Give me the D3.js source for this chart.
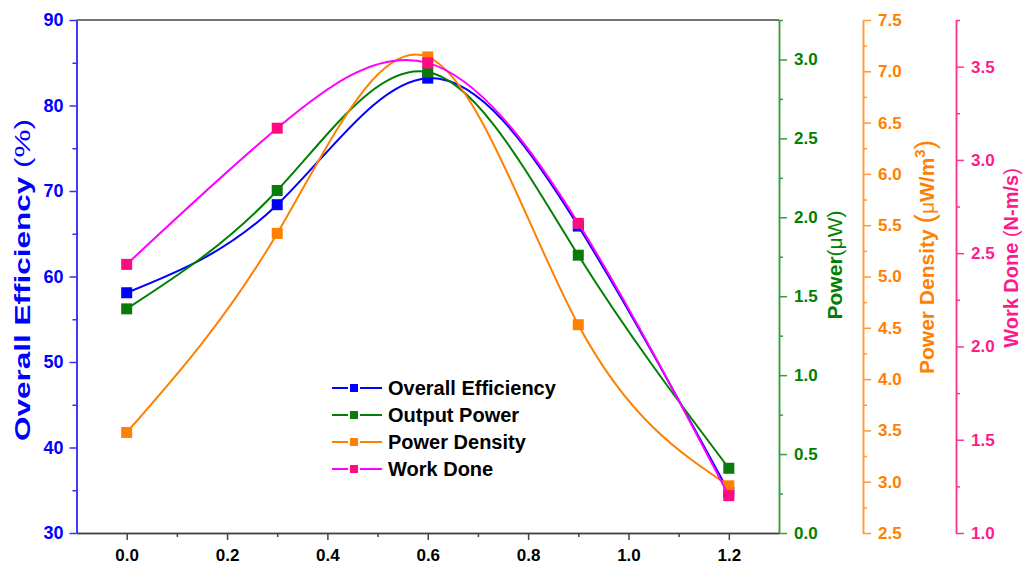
<!DOCTYPE html>
<html><head><meta charset="utf-8">
<script src="https://cdn.jsdelivr.net/npm/d3@7"></script>
<style>body{margin:0;background:#fff}svg{display:block}text{font-family:"Liberation Sans",Arial,sans-serif}</style>
</head><body>
<svg id="c" width="1025" height="566"></svg>
<script>
// ---- data ----
const xValues = [0.0, 0.3, 0.6, 0.9, 1.2];
const efficiency = [58.1, 68.4, 83.2, 65.9, 34.8];      // Overall Efficiency (%)
const outputPower = [1.42, 2.17, 2.92, 1.76, 0.41];     // Power (µW)
const powerDensity = [3.48, 5.42, 7.14, 4.53, 2.96];    // Power Density (µW/m^3)
const workDone = [2.44, 3.17, 3.52, 2.66, 1.20];        // Work Done (N-m/s)
const seriesNames = ["Overall Efficiency", "Output Power", "Power Density", "Work Done"];
const xTickValues = [0.0, 0.2, 0.4, 0.6, 0.8, 1.0, 1.2];
const xMinorValues = [0.1, 0.3, 0.5, 0.7, 0.9, 1.1];
const effTicks = [30, 40, 50, 60, 70, 80, 90];
const effMinor = [35, 45, 55, 65, 75, 85];
const powTicks = [0.0, 0.5, 1.0, 1.5, 2.0, 2.5, 3.0];
const powMinor = [0.25, 0.75, 1.25, 1.75, 2.25, 2.75, 3.25];
const denTicks = [2.5, 3.0, 3.5, 4.0, 4.5, 5.0, 5.5, 6.0, 6.5, 7.0, 7.5];
const denMinor = [2.75, 3.25, 3.75, 4.25, 4.75, 5.25, 5.75, 6.25, 6.75, 7.25];
const workTicks = [1.0, 1.5, 2.0, 2.5, 3.0, 3.5];
const workMinor = [1.25, 1.75, 2.25, 2.75, 3.25, 3.75];

// ---- layout ----
const L = 76.5, R = 779, T = 20, B = 533;
const svg = d3.select("#c");
const FONT = '"Liberation Sans", Arial, sans-serif';

const x = d3.scaleLinear().domain([-0.1, 1.3]).range([L, R]);
const yE = d3.scaleLinear().domain([30, 90]).range([B, T]);
const yP = d3.scaleLinear().domain([0, 3.25]).range([B, T]);
const yD = d3.scaleLinear().domain([2.5, 7.5]).range([B, T]);
const yW = d3.scaleLinear().domain([1, 3.75]).range([B, T]);

const C = {
  blue: "#0000FF", blueAxis: "#3030FF",
  green: "#008000", greenAxis: "#3C9A3C", greenMark: "#0A7A0A",
  orange: "#FF8000", orangeAxis: "#FF9933",
  pinkLine: "#FF00FF", pinkMark: "#FF0A7F", pinkAxis: "#FF3399", pinkText: "#FF1A8C"
};

// top frame
svg.append("line").attr("x1", L).attr("x2", R).attr("y1", T).attr("y2", T)
  .attr("stroke", "#444").attr("stroke-width", 1.5);

function styleAxis(g, color, textColor, fs) {
  g.select(".domain").attr("stroke", color).attr("stroke-width", 1.5);
  g.selectAll(".tick line").attr("stroke", color).attr("stroke-width", 1.5);
  g.selectAll(".tick text").attr("fill", textColor).attr("font-size", fs)
    .attr("font-weight", "bold").attr("font-family", FONT);
}

// x axis
const gx = svg.append("g").attr("transform", `translate(0,${B})`)
  .call(d3.axisBottom(x).tickValues(xTickValues).tickFormat(d3.format(".1f")).tickSize(7).tickSizeOuter(0).tickPadding(9));
styleAxis(gx, "#444", "#000", 17);
const gxm = svg.append("g").attr("transform", `translate(0,${B})`)
  .call(d3.axisBottom(x).tickValues(xMinorValues).tickFormat("").tickSize(4).tickSizeOuter(0));
styleAxis(gxm, "#444", "#000", 17);

// left axis
const gl = svg.append("g").attr("transform", `translate(${L},0)`)
  .call(d3.axisLeft(yE).tickValues(effTicks).tickSize(7).tickSizeOuter(0).tickPadding(6));
styleAxis(gl, C.blueAxis, C.blue, 18);
const glm = svg.append("g").attr("transform", `translate(${L},0)`)
  .call(d3.axisLeft(yE).tickValues(effMinor).tickFormat("").tickSize(4).tickSizeOuter(0));
styleAxis(glm, C.blueAxis, C.blue, 18);

// right axes
function rightAxis(xpos, scale, ticks, minor, color, textColor) {
  const g = svg.append("g").attr("transform", `translate(${xpos},0)`)
    .call(d3.axisRight(scale).tickValues(ticks).tickFormat(d3.format(".1f")).tickSize(8).tickSizeOuter(0).tickPadding(7));
  styleAxis(g, color, textColor, 17);
  const gm = svg.append("g").attr("transform", `translate(${xpos},0)`)
    .call(d3.axisRight(scale).tickValues(minor).tickFormat("").tickSize(4).tickSizeOuter(0));
  styleAxis(gm, color, textColor, 17);
}
rightAxis(R, yP, powTicks, powMinor, C.greenAxis, C.green);
rightAxis(863, yD, denTicks, denMinor, C.orangeAxis, C.orange);
rightAxis(956, yW, workTicks, workMinor, C.pinkAxis, C.pinkText);

// axis titles
const t1 = svg.append("text").attr("transform", "translate(30,280) rotate(-90)")
  .attr("text-anchor", "middle").attr("fill", C.blue).attr("font-size", 22)
  .attr("textLength", 322).attr("lengthAdjust", "spacingAndGlyphs");
t1.append("tspan").attr("font-weight", "bold").text("Overall Efficiency ");
t1.append("tspan").attr("font-weight", "normal").text("(%)");

const t2 = svg.append("text").attr("transform", "translate(842,265) rotate(-90)")
  .attr("text-anchor", "middle").attr("fill", C.green).attr("font-size", 21);
t2.append("tspan").attr("font-weight", "bold").text("Power");
t2.append("tspan").attr("font-weight", "normal").text("(\u03BCW)");

const t3 = svg.append("text").attr("transform", "translate(934,257) rotate(-90)")
  .attr("text-anchor", "middle").attr("fill", C.orange).attr("font-size", 21);
t3.append("tspan").attr("font-weight", "bold").text("Power Density ");
t3.append("tspan").attr("font-weight", "normal").attr("font-size", 28).text("(");
t3.append("tspan").attr("font-weight", "normal").text("\u03BC");
t3.append("tspan").attr("font-weight", "bold").text("W/m");
t3.append("tspan").attr("font-weight", "bold").attr("font-size", 15).attr("dy", -9).text("3");
t3.append("tspan").attr("font-weight", "normal").attr("font-size", 28).attr("dy", 9).text(")");

const t4 = svg.append("text").attr("transform", "translate(1018,258) rotate(-90)")
  .attr("text-anchor", "middle").attr("fill", C.pinkText).attr("font-size", 20);
t4.append("tspan").attr("font-weight", "bold").text("Work Done ");
t4.append("tspan").attr("font-weight", "normal").text("(");
t4.append("tspan").attr("font-weight", "bold").text("N-m/s");
t4.append("tspan").attr("font-weight", "normal").text(")");

// series
const series = [
  { name: seriesNames[0], vals: efficiency, y: yE, line: C.blue, mark: C.blue },
  { name: seriesNames[1], vals: outputPower, y: yP, line: C.green, mark: C.greenMark },
  { name: seriesNames[2], vals: powerDensity, y: yD, line: C.orange, mark: C.orange },
  { name: seriesNames[3], vals: workDone, y: yW, line: C.pinkLine, mark: C.pinkMark }
];
const M = 11;
series.forEach(s => {
  const pts = xValues.map((xv, i) => [xv, s.vals[i]]);
  const lineGen = d3.line().x(d => x(d[0])).y(d => s.y(d[1])).curve(d3.curveNatural);
  svg.append("path").attr("d", lineGen(pts)).attr("fill", "none")
    .attr("stroke", s.line).attr("stroke-width", 2);
  svg.append("g").selectAll("rect").data(pts).join("rect")
    .attr("x", d => x(d[0]) - M / 2).attr("y", d => s.y(d[1]) - M / 2)
    .attr("width", M).attr("height", M).attr("fill", s.mark);
});

// legend
const lg = svg.append("g");
series.forEach((s, i) => {
  const yy = 388 + i * 27;
  lg.append("line").attr("x1", 332).attr("x2", 348).attr("y1", yy).attr("y2", yy).attr("stroke", s.line).attr("stroke-width", 2);
  lg.append("line").attr("x1", 360).attr("x2", 382).attr("y1", yy).attr("y2", yy).attr("stroke", s.line).attr("stroke-width", 2);
  lg.append("rect").attr("x", 350).attr("y", yy - 4).attr("width", 8).attr("height", 8).attr("fill", s.mark);
  lg.append("text").attr("x", 388).attr("y", yy + 7).attr("font-size", 20).attr("font-weight", "bold")
    .attr("fill", "#000").text(s.name);
});
</script>
</body></html>
